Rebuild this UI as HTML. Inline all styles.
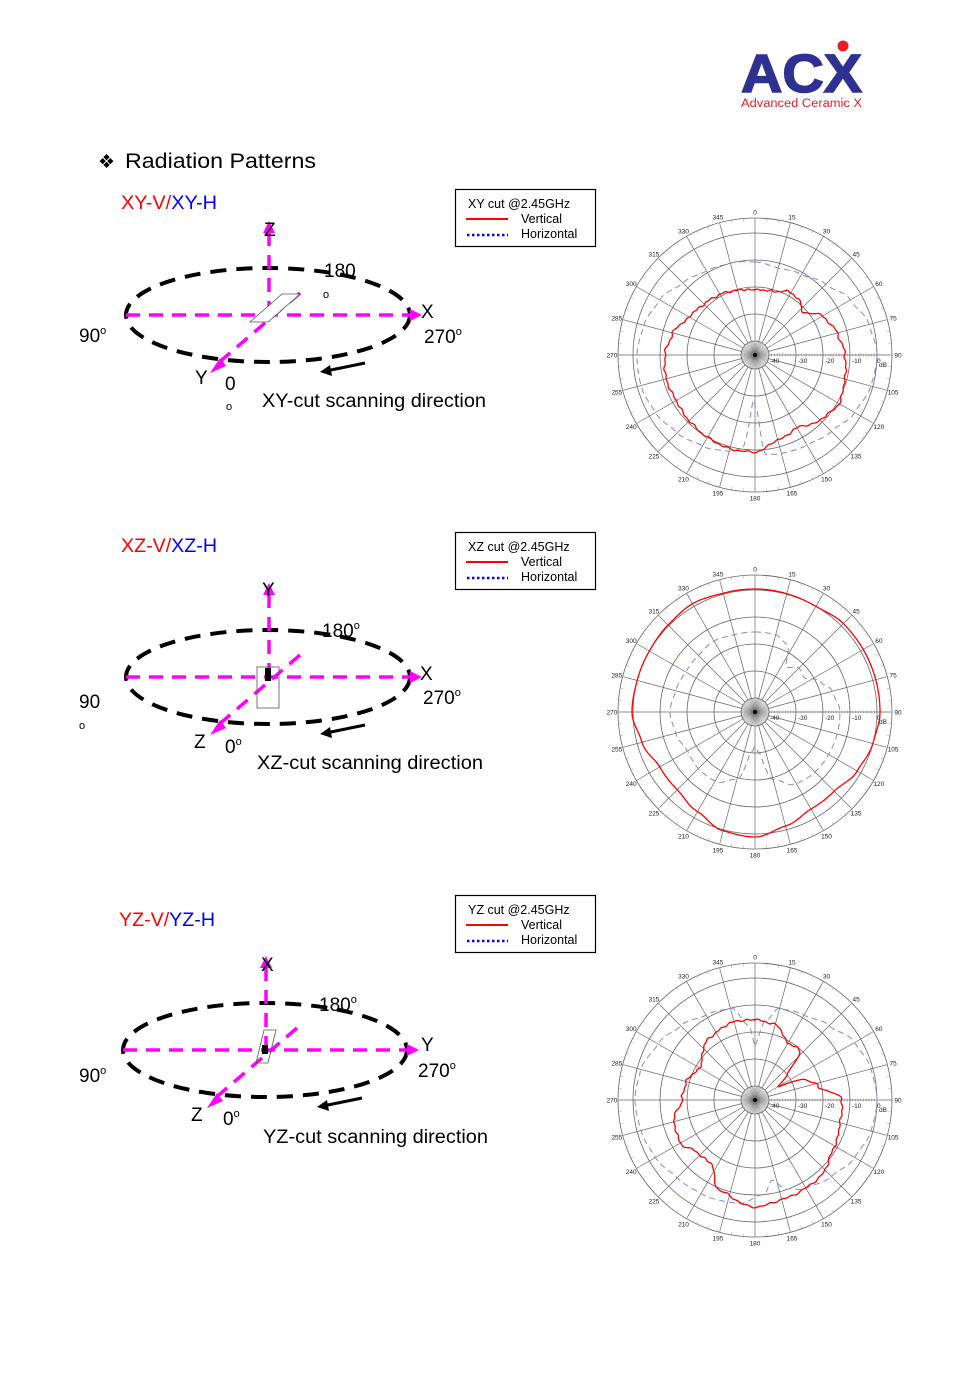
<!DOCTYPE html>
<html><head><meta charset="utf-8">
<style>
html,body{margin:0;padding:0;background:#fff;}
svg{display:block;font-family:"Liberation Sans",sans-serif;}
</style></head>
<body>
<svg id="s" width="965" height="1390" viewBox="0 0 965 1390" xmlns="http://www.w3.org/2000/svg">
<rect width="965" height="1390" fill="#fff"/>
<text x="741" y="92" font-size="54" font-weight="bold" fill="#2e3192" textLength="121" lengthAdjust="spacingAndGlyphs" stroke="#2e3192" stroke-width="1.5">ACX</text>
<circle cx="843" cy="46" r="5.5" fill="#e81e25"/>
<text x="741" y="107" font-size="11.5" fill="#e81e25" textLength="121" lengthAdjust="spacingAndGlyphs">Advanced Ceramic X</text>
<text x="98" y="168" font-size="19" fill="#000">❖</text>
<text x="125" y="168" font-size="21" fill="#000" textLength="191" lengthAdjust="spacingAndGlyphs">Radiation Patterns</text>
<g id="g"></g>
</svg>
<script>
var g=document.getElementById('g');var out='';
function P(t){out+=t;}
function title(x,y,a,b){P('<text x="'+x+'" y="'+y+'" font-size="19" textLength="96" lengthAdjust="spacingAndGlyphs"><tspan fill="#ff0000">'+a+'-V/</tspan><tspan fill="#0000ff">'+b+'-H</tspan></text>');}
title(121,209,'XY','XY');title(121,552,'XZ','XZ');title(119,926,'YZ','YZ');
function legend(y,t){
P('<rect x="455.5" y="'+(y+.5)+'" width="140" height="57" fill="#fff" stroke="#000" stroke-width="1.2"/>');
P('<text x="468" y="'+(y+19)+'" font-size="12.5">'+t+'</text>');
P('<line x1="466" x2="508" y1="'+(y+30)+'" y2="'+(y+30)+'" stroke="#ff0000" stroke-width="2"/>');
P('<text x="521" y="'+(y+34)+'" font-size="12.5">Vertical</text>');
P('<line x1="467" x2="508" y1="'+(y+46)+'" y2="'+(y+46)+'" stroke="#0000ff" stroke-width="2.5" stroke-dasharray="2.5,2.5"/>');
P('<text x="521" y="'+(y+49)+'" font-size="12.5">Horizontal</text>');}
legend(189,'XY cut @2.45GHz');legend(532,'XZ cut @2.45GHz');legend(895,'YZ cut @2.45GHz');
function diag(cx,cy,L){
var m='#ff00ff';
P('<ellipse cx="'+cx+'" cy="'+cy+'" rx="142" ry="47" fill="none" stroke="#000" stroke-width="4" stroke-dasharray="16,10"/>');
P('<line x1="'+(cx-142)+'" y1="'+cy+'" x2="'+(cx+142)+'" y2="'+cy+'" stroke="'+m+'" stroke-width="3.5" stroke-dasharray="14,9"/>');
P('<polygon points="'+(cx+142)+','+(cy-6)+' '+(cx+154)+','+cy+' '+(cx+142)+','+(cy+6)+'" fill="'+m+'"/>');
P('<line x1="'+(cx+1)+'" y1="'+cy+'" x2="'+(cx+1)+'" y2="'+(cy-85)+'" stroke="'+m+'" stroke-width="3.5" stroke-dasharray="14,9"/>');
P('<polygon points="'+(cx-5)+','+(cy-82)+' '+(cx+1)+','+(cy-94)+' '+(cx+7)+','+(cy-82)+'" fill="'+m+'"/>');
P('<line x1="'+(cx+32)+'" y1="'+(cy-22)+'" x2="'+(cx-52)+'" y2="'+(cy+50)+'" stroke="'+m+'" stroke-width="3.5" stroke-dasharray="14,9"/>');
P('<polygon points="'+(cx-48)+','+(cy+43)+' '+(cx-58)+','+(cy+58)+' '+(cx-42)+','+(cy+51)+'" fill="'+m+'"/>');
P('<line x1="'+(cx+97)+'" y1="'+(cy+48)+'" x2="'+(cx+58)+'" y2="'+(cy+56)+'" stroke="#000" stroke-width="3"/>');
P('<polygon points="'+(cx+62)+','+(cy+50)+' '+(cx+52)+','+(cy+57)+' '+(cx+64)+','+(cy+61)+'" fill="#000"/>');
P('<rect x="'+(cx-3)+'" y="'+(cy-5)+'" width="6" height="9" fill="#000"/>');
for(var i=0;i<L.length;i++){var l=L[i];P('<text x="'+l[0]+'" y="'+l[1]+'" font-size="'+(l[3]||19)+'"'+(l[4]?' textLength="'+l[4]+'" lengthAdjust="spacingAndGlyphs"':'')+'>'+l[2]+'</text>');}
}
diag(268,315,[[264,236,'Z'],[324,277,'180'],[323,298,'o',11],[421,318,'X'],[79,342,'90<tspan font-size="11" dy="-8">o</tspan>'],[424,343,'270<tspan font-size="11" dy="-8">o</tspan>'],[195,384,'Y'],[225,390,'0'],[226,410,'o',11],[262,407,'XY-cut scanning direction',19,224]]);
P('<polygon points="250,322 282,294 300,294 268,322" fill="#fff" stroke="#555" stroke-width="0.8"/>');
diag(268,677,[[262,596,'Y'],[322,637,'180<tspan font-size="11" dy="-8">o</tspan>'],[420,680,'X'],[79,708,'90'],[79,729,'o',11],[423,704,'270<tspan font-size="11" dy="-8">o</tspan>'],[194,748,'Z'],[225,753,'0<tspan font-size="11" dy="-8">o</tspan>'],[257,769,'XZ-cut scanning direction',19,226]]);
P('<rect x="257" y="667" width="22" height="41" fill="none" stroke="#555" stroke-width="0.8"/><rect x="265" y="668" width="6" height="9" fill="#000"/>');
diag(265,1050,[[261,971,'X'],[319,1011,'180<tspan font-size="11" dy="-8">o</tspan>'],[421,1051,'Y'],[79,1082,'90<tspan font-size="11" dy="-8">o</tspan>'],[418,1077,'270<tspan font-size="11" dy="-8">o</tspan>'],[191,1121,'Z'],[223,1125,'0<tspan font-size="11" dy="-8">o</tspan>'],[263,1143,'YZ-cut scanning direction',19,225]]);
P('<polygon points="256,1063 264,1030 276,1030 268,1063" fill="none" stroke="#555" stroke-width="0.8"/>');
function interp(tab,a){a=((a%360)+360)%360;for(var i=0;i<tab.length;i++){var p=tab[i],q=tab[(i+1)%tab.length];var qa=q[0]<=p[0]?q[0]+360:q[0];var aa=a<p[0]?a+360:a;if(aa>=p[0]&&aa<=qa){var t=(aa-p[0])/(qa-p[0]);t=(1-Math.cos(t*Math.PI))/2;return p[1]+(q[1]-p[1])*t;}}return tab[0][1];}
function curve(cx,cy,tab,col,dash,w,jit){var s='';for(var a=0;a<=360;a+=1){var r=interp(tab,a)+(jit?(Math.sin(a*7.3)*0.6+Math.sin(a*13.1)*0.5):0);var rad=a*Math.PI/180;s+=(a?'L':'M')+(cx+r*Math.sin(rad)).toFixed(1)+','+(cy-r*Math.cos(rad)).toFixed(1);}
P('<path d="'+s+'Z" fill="none" stroke="'+col+'" stroke-width="'+w+'"'+(dash?' stroke-dasharray="'+dash+'"':'')+'/>');}
function polar(cx,cy){
var rs=[137,122,95,68,41,14];
for(var i=0;i<rs.length;i++)P('<circle cx="'+cx+'" cy="'+cy+'" r="'+rs[i]+'" fill="none" stroke="#666" stroke-width="0.8"/>');
for(var a=0;a<360;a+=15){var rad=a*Math.PI/180,s=Math.sin(rad),c=-Math.cos(rad);
P('<line x1="'+(cx+14*s)+'" y1="'+(cy+14*c)+'" x2="'+(cx+137*s)+'" y2="'+(cy+137*c)+'" stroke="#666" stroke-width="0.7"/>');
var lr=143;P('<text x="'+(cx+lr*s)+'" y="'+(cy+lr*c+2.5)+'" font-size="6.5" text-anchor="middle" fill="#222">'+a+'</text>');}
for(var a=0;a<360;a+=5){var rad=a*Math.PI/180,s=Math.sin(rad),c=-Math.cos(rad);
P('<line x1="'+cx+'" y1="'+cy+'" x2="'+(cx+14*s)+'" y2="'+(cy+14*c)+'" stroke="#666" stroke-width="0.4"/>');
P('<line x1="'+(cx+134*s)+'" y1="'+(cy+134*c)+'" x2="'+(cx+137*s)+'" y2="'+(cy+137*c)+'" stroke="#999" stroke-width="0.5"/>');}
for(var x=14;x<=122;x+=2.7)P('<line x1="'+(cx+x)+'" y1="'+(cy-1.5)+'" x2="'+(cx+x)+'" y2="'+(cy+1.5)+'" stroke="#777" stroke-width="0.4"/>');
var lb=[['-40',15],['-30',43],['-20',70],['-10',97],['0',122]];
for(var i=0;i<lb.length;i++)P('<text x="'+(cx+lb[i][1])+'" y="'+(cy+8)+'" font-size="6.5" fill="#222">'+lb[i][0]+'</text>');
P('<text x="'+(cx+124)+'" y="'+(cy+12)+'" font-size="6.5" fill="#222">dB</text>');
P('<circle cx="'+cx+'" cy="'+cy+'" r="2" fill="#000"/>');}
polar(755,355);
curve(755,355,[[0,93],[15,90],[30,93],[45,100],[60,110],[75,118],[90,122],[105,120],[120,115],[135,108],[150,104],[165,102],[174,100],[178,55],[182,45],[188,95],[195,100],[210,105],[225,110],[240,115],[255,118],[270,118],[285,115],[300,110],[315,102],[330,97],[345,95]],'#8888cc','6,4',1,false);
curve(755,355,[[0,65],[15,66],[30,72],[40,70],[48,64],[60,78],[75,85],[90,90],[105,93],[120,97],[135,92],[150,84],[165,88],[180,97],[195,97],[210,95],[225,93],[240,91],[255,92],[270,90],[285,85],[300,76],[315,72],[330,70],[345,67]],'#ff0000',null,1.3,true);
polar(755,712);
curve(755,712,[[0,80],[15,80],[25,75],[35,55],[45,62],[55,60],[65,72],[75,80],[90,85],[105,85],[120,85],[135,85],[150,83],[165,70],[175,40],[180,35],[185,40],[195,70],[210,80],[225,80],[240,78],[255,82],[270,85],[285,82],[300,80],[315,80],[330,82],[345,80]],'#8888cc','6,4',1,false);
curve(755,712,[[0,123],[30,122],[45,125],[60,125],[90,125],[105,122],[120,118],[135,112],[150,112],[165,118],[180,125],[195,123],[210,115],[225,110],[240,110],[255,117],[270,123],[285,122],[300,122],[315,123],[330,125],[345,123]],'#ff0000',null,1.3,false);
polar(755,1100);
curve(755,1100,[[0,55],[8,80],[15,95],[30,98],[45,105],[60,115],[75,120],[90,122],[105,120],[120,115],[135,108],[150,102],[160,95],[168,82],[175,95],[190,105],[210,108],[225,110],[240,115],[255,118],[270,120],[285,118],[300,112],[315,105],[330,98],[345,95],[355,75]],'#8888cc','6,4',1,false);
curve(755,1100,[[0,80],[15,78],[30,66],[42,67],[52,40],[60,27],[68,55],[78,65],[90,87],[105,88],[120,92],[142,101],[165,103],[180,107],[201,97],[215,77],[228,78],[240,86],[255,84],[270,73],[285,71],[300,64],[324,77],[345,81]],'#ff0000',null,1.3,true);
g.innerHTML=out;
</script>
</body></html>
